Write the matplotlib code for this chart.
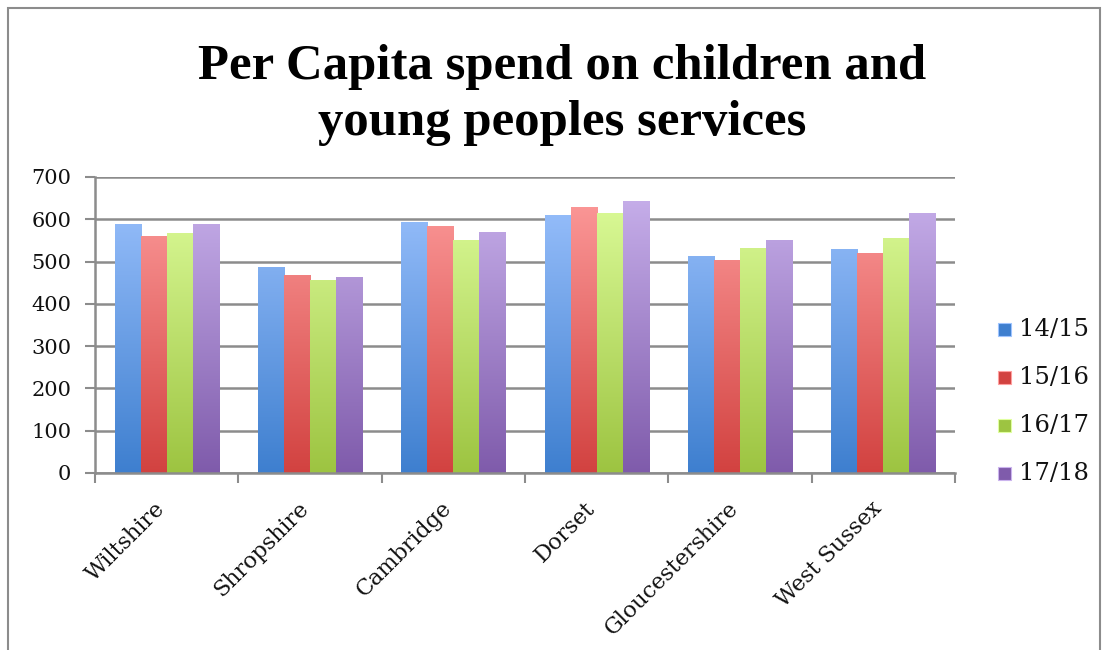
import numpy as np
import matplotlib
matplotlib.use("Agg")
import matplotlib.pyplot as plt
from matplotlib.patches import Rectangle
from matplotlib.colors import LinearSegmentedColormap

title = "Per Capita spend on children and\nyoung peoples services"
categories = ["Wiltshire", "Shropshire", "Cambridge", "Dorset", "Gloucestershire", "West Sussex"]
series_names = ["14/15", "15/16", "16/17", "17/18"]
v1415 = [590, 488, 594, 610, 513, 529]
v1516 = [560, 468, 585, 628, 504, 520]
v1617 = [567, 456, 551, 615, 532, 556]
v1718 = [590, 464, 569, 643, 552, 615]
yticks = [0, 100, 200, 300, 400, 500, 600, 700]

series = [v1415, v1516, v1617, v1718]
grad = [("#9fc4ff", "#3e7fcf"), ("#ff9f9f", "#d24240"),
        ("#e0ff9f", "#9dc441"), ("#cbb4ee", "#7f5bab")]

serif = ["DejaVu Serif"]
fig = plt.figure(figsize=(11.1, 6.5), dpi=100)
ax = fig.add_axes([95/1110, 1-473/650, 860/1110, 296/650])

n = len(categories)
x = np.arange(n)
bw = 1/5.5
for si, vals in enumerate(series):
    top, bot = grad[si]
    cmap = LinearSegmentedColormap.from_list("g%d" % si, [bot, top])
    offs = (si - 1.5) * bw
    bars = ax.bar(x + offs, vals, bw, color="none", edgecolor="none", zorder=3)
    for b, v in zip(bars, vals):
        x0 = b.get_x()
        im = ax.imshow(np.linspace(0, 1, 256).reshape(-1, 1), cmap=cmap,
                       origin="lower", aspect="auto",
                       extent=(x0, x0 + bw, 0, 700), zorder=3)
        im.set_clip_path(b)

ax.set_xlim(-0.5, n - 0.5)
ax.set_ylim(0, 700)
ax.set_yticks(yticks)
ax.set_yticklabels([str(t) for t in yticks], fontsize=15, family=serif, color="#111111")
ax.set_xticks(np.arange(-0.5, n, 1.0))
ax.set_xticklabels([])
ax.tick_params(axis="y", length=7, width=1.5, color="#8c8c8c", direction="out", pad=10)
ax.tick_params(axis="x", length=7, width=1.5, color="#8c8c8c", direction="out")
ax.grid(axis="y", color="#8c8c8c", linewidth=1.8, zorder=1)
ax.set_axisbelow(True)
for s in ["top", "right"]:
    ax.spines[s].set_visible(False)
for s in ["left", "bottom"]:
    ax.spines[s].set_color("#8c8c8c")
    ax.spines[s].set_linewidth(1.8)
    ax.spines[s].set_zorder(4)

for i, c in enumerate(categories):
    ax.text(i - 0.09, -58, c, rotation=45, ha="right", va="top",
            rotation_mode="anchor", fontsize=16, family=serif, color="#111111")

# legend
for si, name in enumerate(series_names):
    top, bot = grad[si]
    yy = 1 - (330 + si * 48) / 650
    fig.patches.append(Rectangle((998/1110, yy - 6/650), 13/1110, 13/650,
                                 transform=fig.transFigure, facecolor=bot,
                                 edgecolor=top, linewidth=0.8))
    fig.text(1019/1110, yy, name, fontsize=17.5, family=serif, va="center",
             ha="left", color="#111111")

fig.text(562/1110, 1 - 95/650, title, ha="center", va="center",
         fontsize=36.5, fontweight="bold", family=["Liberation Serif", "DejaVu Serif"],
         linespacing=1.27, color="black")

fig.patches.append(Rectangle((8/1110, -0.05), 1092/1110, 1.05 - 8/650,
                             transform=fig.transFigure, facecolor="none",
                             edgecolor="#8c8c8c", linewidth=1.5))

fig.savefig("out.png", dpi=100)
